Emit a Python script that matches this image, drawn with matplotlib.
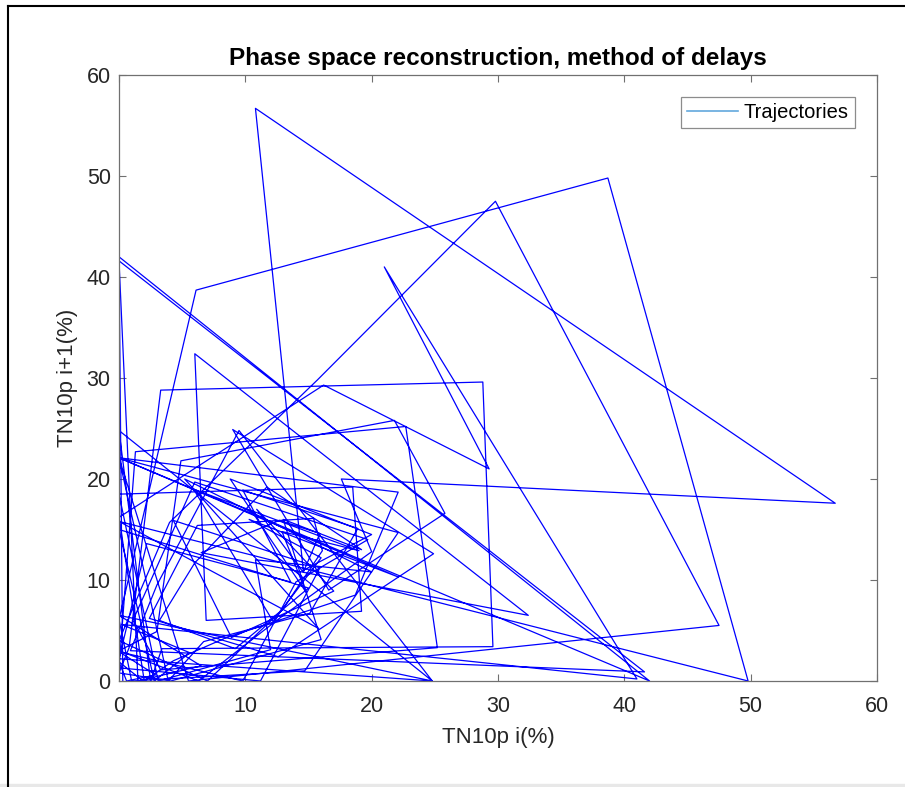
import matplotlib
matplotlib.use('Agg')
import matplotlib.pyplot as plt
from matplotlib.lines import Line2D
from matplotlib.patches import Rectangle

plt.rcParams['font.family'] = ['Liberation Sans', 'DejaVu Sans']

# TN10p time series (%)
tn10p = [
    0.3, 0.0, 42.0, 0.0, 22.1, 14.7, 1.0, 0.0, 6.1, 38.7,
    49.8, 0.0, 15.8, 5.2, 20.0, 10.8, 12.0, 3.1, 0.0, 18.5,
    19.2, 6.9, 6.0, 32.4, 6.5, 12.7, 15.9, 14.6, 10.8, 56.7,
    17.6, 20.0, 12.8, 6.3, 0.0, 3.0, 4.9, 21.8, 25.8, 16.6,
    9.0, 24.9, 12.6, 2.4, 6.2, 15.4, 16.1, 12.9, 7.0, 0.0,
    4.0, 15.7, 29.8, 47.5, 5.5, 0.0, 22.1, 18.7, 8.5, 4.3,
    2.0, 0.0, 16.2, 29.3, 21.0, 41.0, 0.2, 5.6, 2.8, 0.0,
    15.0, 9.2, 3.2, 6.0, 11.7, 19.2, 13.0, 16.0, 4.1, 0.0,
    0.8, 3.3, 28.8, 29.6, 3.4, 3.2, 2.5, 0.0, 24.8, 0.0,
    6.5, 1.5, 0.0, 41.6, 0.9, 3.0, 9.5, 24.8, 0.0, 2.2,
    13.6, 9.8, 18.9, 15.1, 6.7, 3.9, 0.0, 22.1, 10.3, 16.0,
    12.2, 5.9, 19.0, 12.9, 14.8, 8.8, 20.0, 14.5, 10.9, 17.0,
    8.9, 4.3, 15.9, 11.2, 0.0, 1.3, 22.7, 25.2, 3.3, 1.1,
    6.0, 19.7, 14.0, 9.8, 0.0, 2.9, 0.6, 0.0, 1.9, 0.0,
]
ticks = [0, 10, 20, 30, 40, 50, 60]

x_i = tn10p[:-1]
x_next = tn10p[1:]

fig = plt.figure(figsize=(9.05, 7.87), dpi=100)
ax = fig.add_axes([0.1315, 0.1347, 0.8375, 0.77])

ax.plot(x_i, x_next, color='#0000ff', lw=0.9)

ax.set_xlim(0, 60)
ax.set_ylim(0, 60)
ax.set_xticks(ticks)
ax.set_yticks(ticks)
ax.tick_params(direction='in', length=5, width=0.8, top=True, right=True,
               labelsize=15.5, colors='#707070', labelcolor='#262626')
ax.tick_params(axis='x', pad=11)
ax.tick_params(axis='y', pad=6)
for s in ax.spines.values():
    s.set_color('#707070')
    s.set_linewidth(0.9)

ax.set_title('Phase space reconstruction, method of delays',
             fontsize=17.5, fontweight='bold', pad=7)
ax.set_xlabel('TN10p i(%)', fontsize=16, color='#262626', labelpad=7)
ax.set_ylabel('TN10p i+1(%)', fontsize=16, color='#262626', labelpad=6)

handle = Line2D([], [], color='#62a8dd', lw=1.2)
leg = ax.legend([handle], ['Trajectories'], loc='upper right', fontsize=14.5,
                frameon=True, fancybox=False, edgecolor='#707070',
                borderaxespad=1.1, handlelength=2.5, handletextpad=0.3,
                borderpad=0.3)
leg.get_frame().set_linewidth(0.9)

# screenshot frame
fig.add_artist(Line2D([8 / 905, 8 / 905], [0, 1 - 6 / 787],
                      transform=fig.transFigure, color='black', lw=1.5))
fig.add_artist(Line2D([8 / 905, 1], [1 - 6 / 787, 1 - 6 / 787],
                      transform=fig.transFigure, color='black', lw=1.5))
fig.add_artist(Rectangle((0, 0), 1, 3 / 787, transform=fig.transFigure,
                         color='#e8e8e8'))

fig.savefig('out.png', dpi=100)
